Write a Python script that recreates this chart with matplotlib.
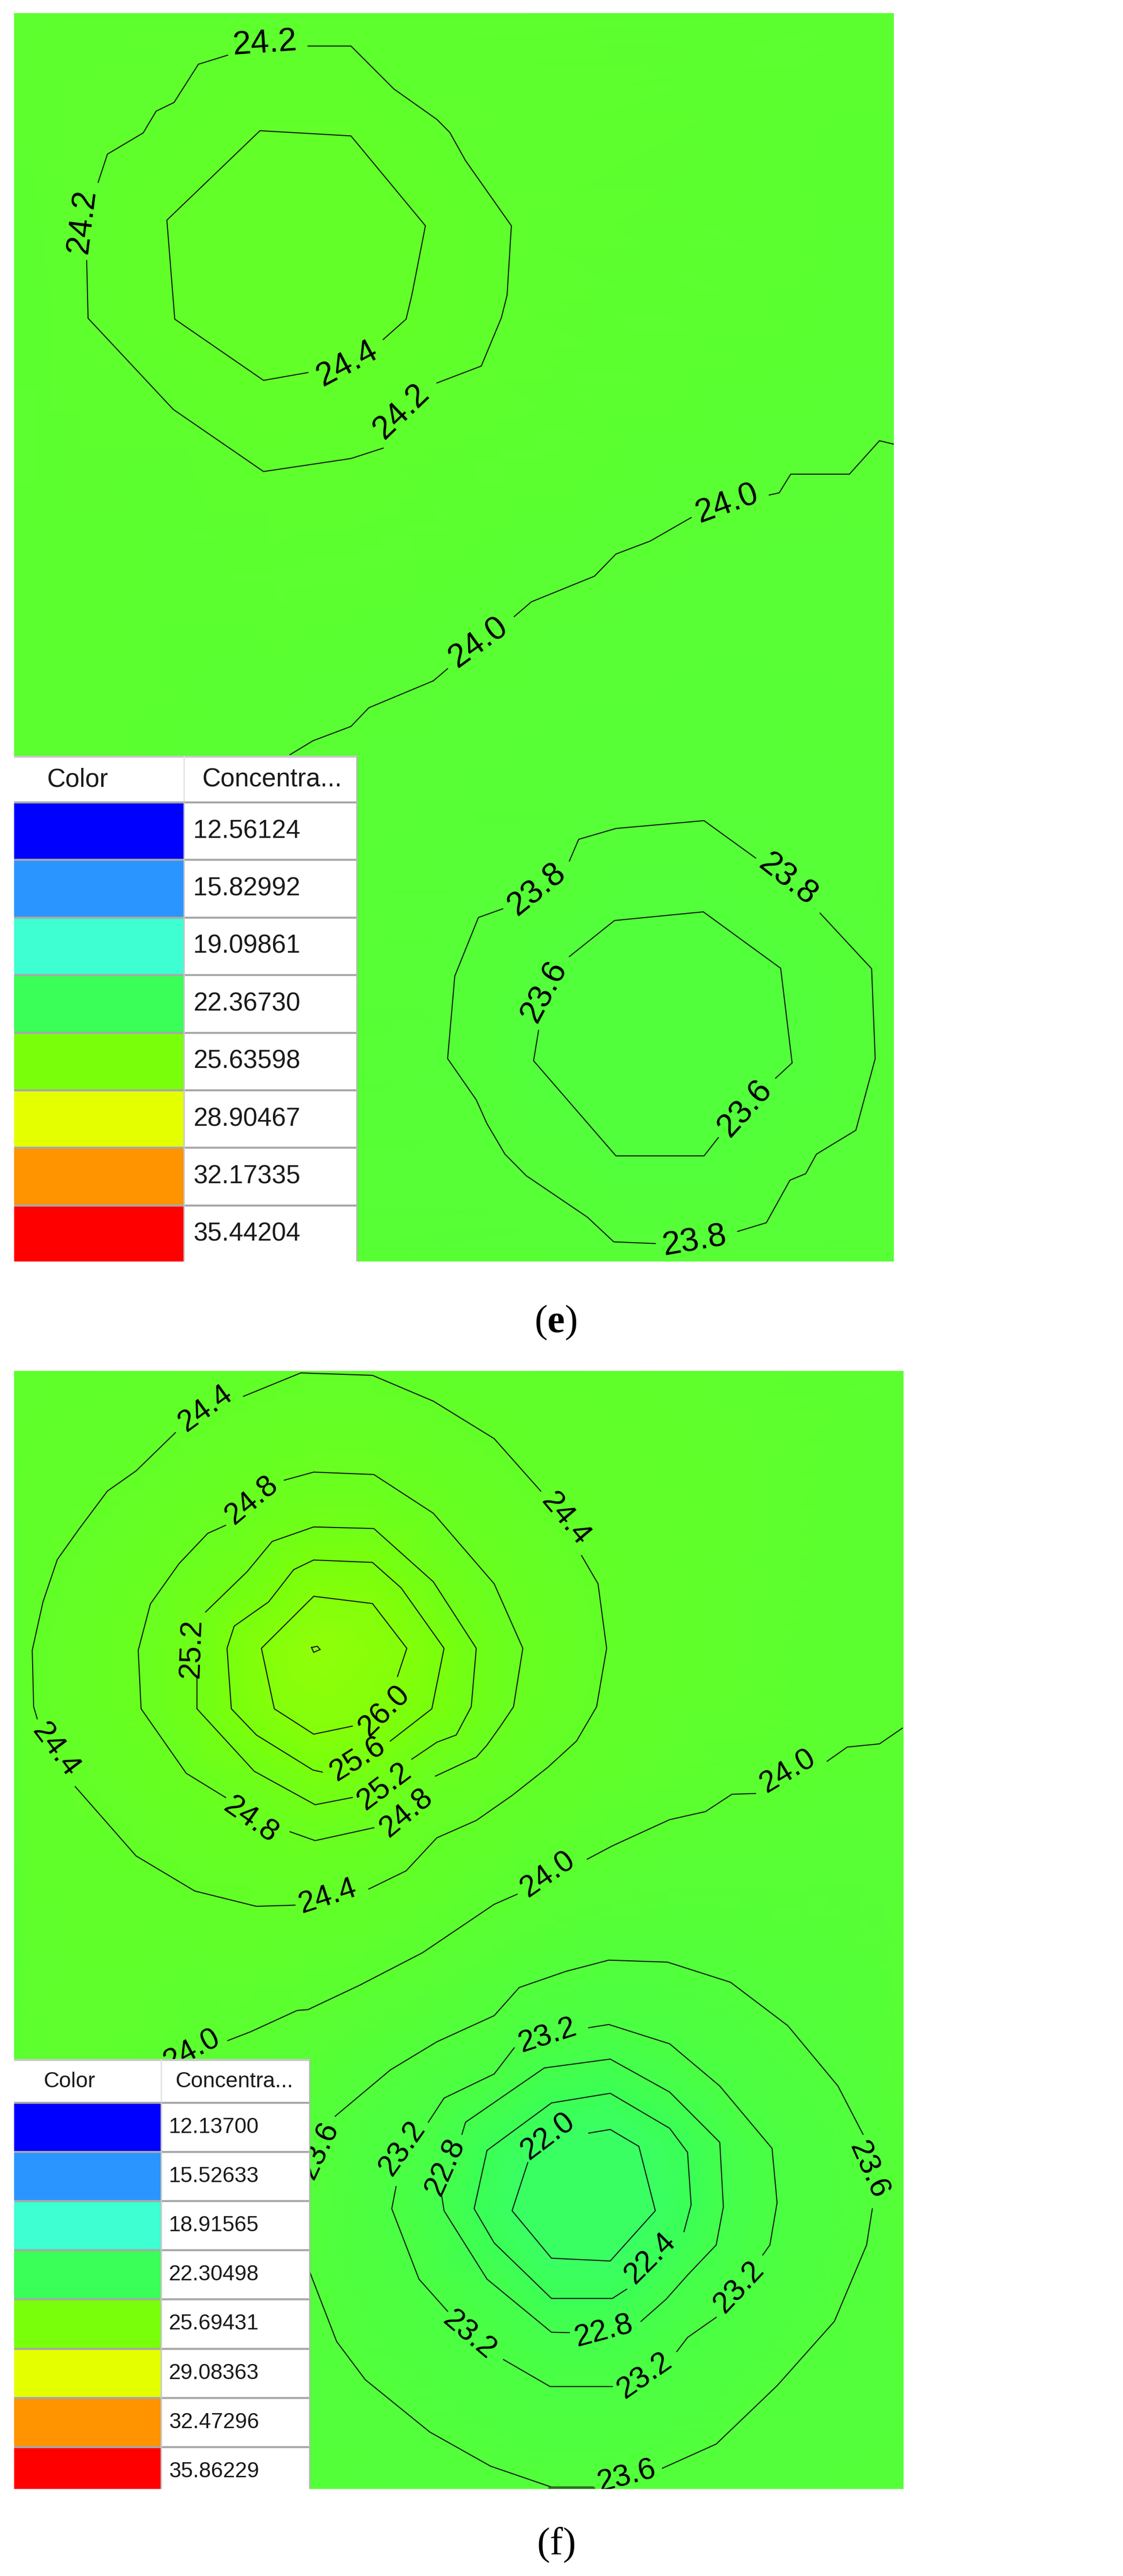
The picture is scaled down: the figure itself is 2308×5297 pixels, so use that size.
import matplotlib
matplotlib.use('Agg')
import matplotlib.pyplot as plt
import matplotlib.tri as mtri
from matplotlib.colors import LinearSegmentedColormap, Normalize
from matplotlib.patches import Rectangle

W, H = 2308, 5297
XS = W / 1568.0

# crops the curves were read from: (top in px, height in px)
E1 = (0, 1400)
E2 = (1400, 1400)
F1 = (2780, 1300)
F2 = (4000, 1297)

legend_colors = ['#0000FF', '#2B95FF', '#3DFFD1', '#3AFF58', '#7AFF0B', '#E4FF00', '#FF9300', '#FF0000']
e_values = [12.56124, 15.82992, 19.09861, 22.36730, 25.63598, 28.90467, 32.17335, 35.44204]
f_values = [12.13700, 15.52633, 18.91565, 22.30498, 25.69431, 29.08363, 32.47296, 35.86229]

# concentration estimated at the panel corners (TL, TR, BR, BL)
e_corner_values = [24.12, 24.02, 23.9, 23.98]
f_corner_values = [24.2, 24.05, 23.7, 23.8]

# panel e contours
e_242 = [(E1, [(318, 127), (277, 148), (243, 236), (218, 256), (200, 306), (150, 355), (137, 420)]),
         (E1, [(121, 600), (123, 733), (242, 943), (368, 1086), (490, 1056), (535, 1032)]),
         (E1, [(610, 882), (672, 843), (700, 732), (708, 680), (714, 520), (650, 370), (628, 305),
               (610, 275), (550, 205), (490, 106), (430, 106)])]
e_244 = [(E1, [(430, 858), (368, 876), (244, 735), (233, 507), (363, 301), (490, 313), (594, 520),
               (575, 680), (567, 735), (535, 782)])]
e_240 = [(E1, [(1248, 1023), (1228, 1015), (1186, 1092), (1104, 1092), (1088, 1135), (1074, 1140)]),
         (E1, [(965, 1192), (908, 1246), (860, 1276), (830, 1327), (742, 1386), (718, 1420)]),
         (E1, [(625, 1540), (605, 1568)]),
         (E2, [(605, 0), (515, 62), (490, 105), (437, 138), (405, 170)])]
e_238 = [(E2, [(795, 415), (808, 365), (860, 340), (983, 322), (1055, 408)]),
         (E2, [(1145, 535), (1217, 663), (1222, 870), (1195, 1035), (1140, 1090), (1125, 1135),
               (1103, 1150), (1070, 1248), (1030, 1268)]),
         (E2, [(915, 1296), (857, 1292), (820, 1235), (735, 1140), (705, 1090), (680, 1020),
               (665, 965), (625, 870), (635, 680), (668, 545), (702, 525)])]
e_236 = [(E2, [(795, 635), (858, 552), (982, 532), (1090, 662), (1106, 880), (1083, 915)]),
         (E2, [(1003, 1052), (983, 1094), (860, 1094), (745, 875), (752, 805)])]

# panel f contours
f_244 = [(F1, [(340, 110), (420, 52), (520, 58), (605, 122), (690, 215), (755, 345)]),
         (F1, [(812, 505), (835, 575), (847, 735), (833, 880), (805, 965), (765, 1030), (715, 1100),
               (665, 1162), (610, 1205), (567, 1287), (515, 1332)]),
         (F1, [(412, 1372), (358, 1375), (272, 1337), (190, 1250), (105, 1078)]),
         (F1, [(52, 910), (47, 880), (45, 740), (60, 620), (80, 515), (110, 440), (150, 345),
               (190, 295), (245, 200)])]
f_248 = [(F1, [(397, 318), (438, 298), (522, 304), (605, 400), (690, 575), (730, 735), (717, 880),
               (700, 925), (680, 975), (665, 1005), (608, 1052)]),
         (F1, [(522, 1180), (440, 1212), (405, 1190)]),
         (F1, [(315, 1105), (260, 1045), (197, 885), (193, 740), (210, 625), (250, 525), (290, 450), (315, 430)])]
f_252 = [(F1, [(287, 645), (345, 545), (380, 470), (438, 434), (522, 438), (605, 570), (665, 735),
               (658, 880), (637, 950), (610, 968), (575, 1010)]),
         (F1, [(492, 1105), (440, 1123), (355, 1040), (275, 885), (275, 805)])]
f_256 = [(F1, [(545, 965), (603, 885), (620, 735), (560, 585), (520, 522), (438, 516), (410, 540),
               (375, 620), (327, 680), (317, 735), (323, 885), (358, 950), (437, 1037), (450, 1042)])]
f_260 = [(F1, [(492, 928), (438, 948), (383, 885), (365, 735), (438, 606), (520, 624), (568, 735), (555, 805)])]
f_264 = [(F1, [(435, 733), (443, 730), (447, 738), (438, 745), (435, 733)])]
f_240 = [(F1, [(1260, 933), (1228, 972), (1183, 980), (1155, 1015)]),
         (F1, [(1055, 1095), (1022, 1097), (985, 1140), (935, 1160), (855, 1225), (820, 1258)]),
         (F1, [(722, 1345), (690, 1370), (590, 1490), (505, 1568)]),
         (F2, [(505, 97), (430, 160), (415, 162), (350, 215), (318, 237)])]
f_236 = [(F2, [(468, 425), (545, 310), (610, 240), (690, 175), (725, 105), (790, 65), (850, 37),
               (932, 42), (1020, 92), (1100, 200), (1170, 350), (1205, 470)]),
         (F2, [(1218, 655), (1210, 745), (1165, 935), (1085, 1095), (1000, 1240), (925, 1300)]),
         (F2, [(828, 1347), (770, 1347), (685, 1295), (600, 1210), (510, 1080), (470, 985), (432, 810)])]
f_232 = [(F2, [(822, 205), (850, 197), (935, 245), (1005, 350), (1078, 505), (1085, 640), (1075, 745), (1065, 770)]),
         (F2, [(1000, 925), (960, 975), (945, 1010)]),
         (F2, [(855, 1097), (768, 1097), (703, 1030)]),
         (F2, [(625, 910), (585, 830), (547, 655), (553, 600)]),
         (F2, [(598, 440), (620, 380), (690, 320), (718, 255)])]
f_228 = [(F2, [(645, 470), (650, 440), (760, 305), (852, 283), (935, 365), (1005, 490), (1010, 650),
               (1000, 745), (960, 820), (930, 880), (895, 935)]),
         (F2, [(795, 963), (770, 962), (680, 830), (620, 660), (617, 625)])]
f_224 = [(F2, [(955, 712), (965, 645), (960, 515), (935, 455), (852, 368), (770, 392), (680, 510),
               (662, 655), (690, 740), (770, 878), (855, 878), (875, 855)])]
f_220 = [(F2, [(822, 467), (852, 458), (892, 500), (915, 660), (852, 785), (770, 778), (715, 660), (737, 540)])]
f_bottom_stub = [(F2, [(768, 1350), (828, 1350)])]

# (text, x, y, angle)
e_labels_top = [('24.2', 370, 100, 4), ('24.2', 115, 510, 83), ('24.4', 485, 838, 28), ('24.2', 560, 948, 44),
                ('24.0', 1015, 1160, 20), ('24.0', 668, 1480, 36)]
e_labels_low = [('23.8', 750, 480, 39), ('23.8', 1100, 458, -38), ('23.6', 760, 715, 62),
                ('23.6', 1040, 985, 48), ('23.8', 970, 1290, 10)]
f_labels_top = [('24.4', 287, 140, 36), ('24.4', 790, 415, -50), ('24.8', 352, 368, 40), ('25.2', 268, 735, 88),
                ('26.0', 537, 890, 45), ('25.6', 500, 1010, 32), ('25.2', 537, 1078, 37), ('24.8', 568, 1143, 40),
                ('24.8', 350, 1162, -35), ('24.4', 78, 987, -53), ('24.4', 458, 1350, 18),
                ('24.0', 1100, 1040, 31), ('24.0', 765, 1295, 35)]
f_labels_low = [('24.0', 268, 260, 28), ('23.6', 445, 510, 65), ('23.2', 765, 225, 18), ('23.2', 562, 505, 55),
                ('22.8', 622, 550, 66), ('22.0', 765, 475, 37), ('22.4', 908, 778, 45), ('23.2', 1032, 850, 47),
                ('22.8', 843, 960, 15), ('23.2', 655, 970, -40), ('23.2', 900, 1070, 35),
                ('23.6', 1213, 560, -66), ('23.6', 875, 1320, 15)]


def to_px(crop, pts):
    y0, h = crop
    return [(x * XS, y0 + y * h / 1568.0) for x, y in pts]


def make_scale(values):
    lo, hi = values[0], values[-1]
    nodes = [((v - lo) / (hi - lo), c) for v, c in zip(values, legend_colors)]
    return LinearSegmentedColormap.from_list('conc', nodes), Normalize(lo, hi)


def shade(ax, rings, corners, corner_values, values):
    # colour between the contours comes from the levels on their vertices
    seen = {}
    for (px, py), z in zip(corners, corner_values):
        seen[(px, py)] = z
    for segs, level in rings:
        for crop, seg in segs:
            for px, py in to_px(crop, seg):
                seen.setdefault((round(px, 1), round(py, 1)), level)
    xs = [p[0] for p in seen]
    ys = [p[1] for p in seen]
    cmap, norm = make_scale(values)
    ax.tripcolor(mtri.Triangulation(xs, ys), list(seen.values()), shading='gouraud', cmap=cmap, norm=norm, zorder=1)


def draw_line(ax, segs):
    for crop, seg in segs:
        xs, ys = zip(*to_px(crop, seg))
        ax.plot(xs, ys, color='#101010', lw=1.5, zorder=2, solid_joinstyle='miter')


def draw_labels(ax, crop, labels, size):
    for txt, x, y, ang in labels:
        (px, py), = to_px(crop, [(x, y)])
        ax.text(px, py, txt, fontsize=size, rotation=ang, ha='center', va='center',
                rotation_mode='anchor', color='black', zorder=3, clip_on=True)


def draw_legend(ax, values, x0, xd, x1, top, head, row, size, color_x, conc_x, val_x, fmt='{:.5f}'):
    ax.add_patch(Rectangle((x0, top), x1 - x0, head - top, fc='white', ec='none', zorder=5))
    ax.plot([x0, x1], [top, top], color='#C8C8C8', lw=3, zorder=6)
    ax.plot([xd, xd], [top, head], color='#E2E2E2', lw=2, zorder=6)
    ax.text(color_x, (top + head) / 2, 'Color', fontsize=size, ha='center', va='center', color='#1A1A1A', zorder=7)
    ax.text(conc_x, (top + head) / 2, 'Concentra...', fontsize=size, ha='left', va='center', color='#1A1A1A', zorder=7)
    for i, (val, col) in enumerate(zip(values, legend_colors)):
        y = head + i * row
        ax.add_patch(Rectangle((x0, y), xd - x0, row, fc=col, ec='none', zorder=5))
        ax.add_patch(Rectangle((xd, y), x1 - xd, row, fc='white', ec='none', zorder=5))
        ax.plot([x0, x1], [y, y], color='#A8A8A8', lw=3, zorder=6)
        ax.text(val_x, y + row / 2, fmt.format(val), fontsize=size, ha='left', va='center',
                color='#1A1A1A', zorder=7, clip_on=True)
    bottom = head + len(values) * row
    ax.plot([xd, xd], [head, bottom], color='#C8C8C8', lw=2, zorder=6)
    ax.plot([x1, x1], [top, bottom], color='#B8B8B8', lw=2, zorder=6)


plt.rcParams['font.family'] = ['Liberation Sans', 'DejaVu Sans']
plt.rcParams['mathtext.fontset'] = 'custom'
plt.rcParams['mathtext.bf'] = 'Liberation Serif:bold'
plt.rcParams['mathtext.rm'] = 'Liberation Serif'

fig = plt.figure(figsize=(W / 100, H / 100), dpi=100, facecolor='white')


def panel(x0, x1, y0, y1):
    ax = fig.add_axes([x0 / W, 1 - y1 / H, (x1 - x0) / W, (y1 - y0) / H])
    ax.axis('off')
    return ax


# (e)
ax_e = panel(29, 1837, 27, 2594)
shade(ax_e, [(e_242, 24.2), (e_244, 24.4), (e_240, 24.0), (e_238, 23.8), (e_236, 23.6)],
      [(29, 27), (1837, 27), (1837, 2594), (29, 2594)], e_corner_values, e_values)
for segs in [e_242, e_244, e_240, e_238, e_236]:
    draw_line(ax_e, segs)
draw_labels(ax_e, E1, e_labels_top, 49)
draw_labels(ax_e, E2, e_labels_low, 49)
draw_legend(ax_e, e_values, 29, 378, 733, 1556, 1650, 118.4, 38, 159, 415, 397)
ax_e.set_xlim(29, 1837)
ax_e.set_ylim(2594, 27)

# (f)
ax_f = panel(29, 1857, 2819, 5118)
shade(ax_f, [(f_244, 24.4), (f_248, 24.8), (f_252, 25.2), (f_256, 25.6), (f_260, 26.0), (f_264, 26.4),
             (f_240, 24.0), (f_236, 23.6), (f_232, 23.2), (f_228, 22.8), (f_224, 22.4), (f_220, 22.0)],
      [(29, 2819), (1857, 2819), (1857, 5118), (29, 5118)], f_corner_values, f_values)
for segs in [f_244, f_248, f_252, f_256, f_260, f_264, f_240, f_236, f_232, f_228, f_224, f_220]:
    draw_line(ax_f, segs)
(stub_crop, stub_pts), = f_bottom_stub
ax_f.plot(*zip(*to_px(stub_crop, stub_pts)), color='#2E7D1A', lw=5, zorder=2)
draw_labels(ax_f, F1, f_labels_top, 45)
draw_labels(ax_f, F2, f_labels_low, 45)
draw_legend(ax_f, f_values, 29, 331, 636, 4236, 4324, 101.1, 32, 143, 361, 347)
ax_f.set_xlim(29, 1857)
ax_f.set_ylim(5118, 2819)

# captions
serif = ['Liberation Serif', 'DejaVu Serif']
fig.text(1142 / W, 1 - 2720 / H, r'($\mathbf{e}$)', fontsize=58, family=serif, ha='center', va='center')
fig.text(1142 / W, 1 - 5233 / H, r'($\mathrm{f}$)', fontsize=58, family=serif, ha='center', va='center')

fig.savefig('out.png', dpi=100)
